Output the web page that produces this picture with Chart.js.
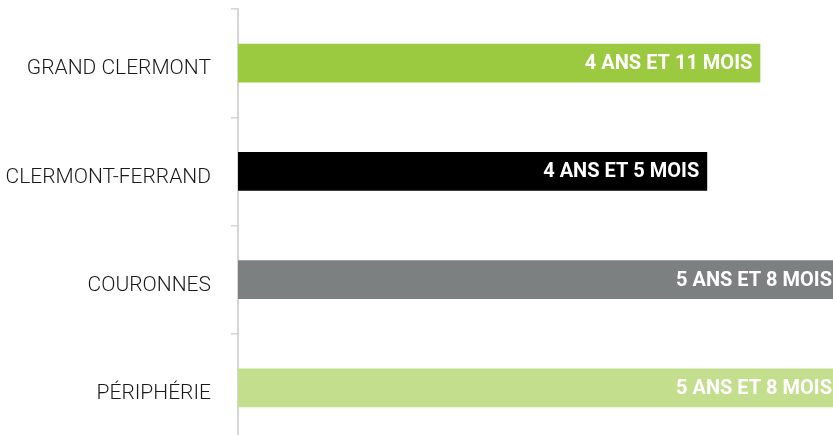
<!DOCTYPE html>
<html>
<head>
<meta charset="utf-8">
<script src="https://cdn.jsdelivr.net/npm/chart.js@4/dist/chart.umd.min.js"></script>
<style>
    html, body { margin: 0; padding: 0; width: 833px; height: 435px; overflow: hidden; background: #fff; }
    #wrap { width: 850px; height: 445px; position: relative; }
</style>
</head>
<body>
<div id="wrap"><canvas id="durationChart"></canvas></div>
<script>
// Durée moyenne par territoire
const territories = ['GRAND CLERMONT', 'CLERMONT-FERRAND', 'COURONNES', 'PÉRIPHÉRIE'];
const years = [4, 4, 5, 5];
const months = [11, 5, 8, 8];
const barColors = ['#9bc93f', '#000000', '#7c8080', '#c3df8e'];

const totalMonths = years.map((y, i) => y * 12 + months[i]);
const valueLabels = years.map((y, i) => `${y} ANS ET ${months[i]} MOIS`);

// write the duration text inside the end of each bar
const barLabels = {
    id: 'barLabels',
    afterDatasetsDraw(chart) {
        const ctx = chart.ctx;
        const meta = chart.getDatasetMeta(0);
        ctx.save();
        ctx.font = '700 20px Roboto';
        ctx.fillStyle = '#ffffff';
        ctx.textAlign = 'right';
        ctx.textBaseline = 'middle';
        meta.data.forEach((bar, i) => {
            ctx.fillText(valueLabels[i], bar.x - 8, bar.y + 1);
        });
        ctx.restore();
    }
};

new Chart(document.getElementById('durationChart'), {
    type: 'bar',
    data: {
        labels: territories,
        datasets: [{
            data: totalMonths,
            backgroundColor: barColors,
            barPercentage: 0.36,
            categoryPercentage: 1
        }]
    },
    options: {
        indexAxis: 'y',
        responsive: true,
        maintainAspectRatio: false,
        animation: false,
        layout: { padding: { top: 9, right: 10, bottom: 3, left: 0 } },
        plugins: {
            legend: { display: false },
            tooltip: { enabled: false }
        },
        scales: {
            x: {
                display: false,
                min: 0,
                max: 68
            },
            y: {
                afterFit(scale) {
                    scale.width = 238;
                    scale.paddingTop = 0;
                    scale.paddingBottom = 0;
                },
                border: { display: true, color: '#d6d6d6', width: 2 },
                grid: {
                    drawOnChartArea: false,
                    drawTicks: true,
                    tickLength: 7,
                    color: '#d6d6d6',
                    lineWidth: 1.5
                },
                ticks: {
                    padding: 20,
                    labelOffset: 6,
                    color: '#1a1a1a',
                    font: { family: 'Roboto', weight: 300, size: 21 }
                }
            }
        }
    },
    plugins: [barLabels]
});
</script>
</body>
</html>
